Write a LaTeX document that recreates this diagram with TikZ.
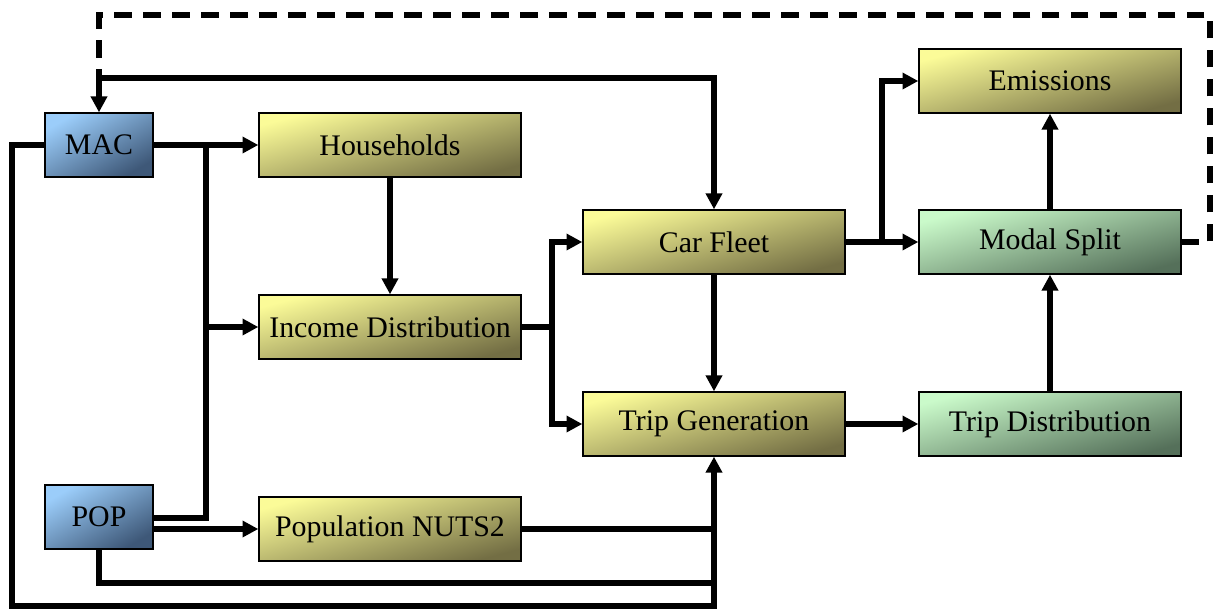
\documentclass[tikz,border=0pt]{standalone}
\usepackage{fontspec}
\setmainfont{Liberation Serif}
\usetikzlibrary{arrows.meta,calc,positioning}

\begin{document}
\begin{tikzpicture}[x=0.02cm,y=-0.02cm,line width=3.3pt,
  box/.style={draw=black,line width=0.8pt,minimum width=5.24cm,minimum height=1.28cm,
    inner sep=0pt,font=\fontsize{17}{20}\selectfont},
  drive/.style={box,minimum width=2.16cm,top color=drivelight,bottom color=drivedark,shading angle=30},
  model/.style={box,top color=modellight,bottom color=modeldark,shading angle=15},
  mode/.style={box,top color=modelight,bottom color=modedark,shading angle=15},
  arr/.style={-{Triangle[length=9pt,width=9pt]}},
  feedback/.style={dash pattern=on 10pt off 6.5pt}]
\definecolor{drivelight}{RGB}{155,205,250} \definecolor{drivedark}{RGB}{62,88,120}
\definecolor{modellight}{RGB}{251,251,152} \definecolor{modeldark}{RGB}{115,110,68}
\definecolor{modelight}{RGB}{202,250,202} \definecolor{modedark}{RGB}{85,112,90}
\useasboundingbox (0,0) rectangle (1214,609);
% drivers
\node [drive] (MAC) at (99,145) {MAC};
\node [drive] (POP) at (99,517) {POP};
% sub models
\node [model] (HH) at (390,145) {Households};
\node [model] (INC) at (390,327) {Income Distribution};
\node [model] (NUTS) at (390,529) {Population NUTS2};
\node [model] (CAR) at (714,242) {Car Fleet};
\node [model] (TRIP) at (714,424) {Trip Generation};
\node [model] (EMI) at (1050,81) {Emissions};
\node [mode] (MS) at (1050,242) {Modal Split};
\node [mode] (TD) at (1050,424) {Trip Distribution};
% junctions
\coordinate (b1) at (206,145); \coordinate (b2) at (206,327); \coordinate (b3) at (206,518);
\coordinate (c1) at (552,327); \coordinate (e1) at (882,242);
\coordinate (l1) at (12,145); \coordinate (l2) at (12,606);
\coordinate (p1) at (99,583); \coordinate (t1) at (99,78); \coordinate (d1) at (1210,15);
\foreach \from/\to in {MAC/HH,HH/INC,CAR/TRIP,CAR/MS,TRIP/TD,TD/MS,MS/EMI}
  \draw [arr] (\from) -- (\to);
\draw (b1) -- (b3) -- (POP.east |- b3);
\draw [arr] (b2) -- (INC);
\draw [arr] (POP.east |- NUTS) -- (NUTS);
\draw [arr] (INC) -- (c1) |- (CAR);
\draw [arr] (c1) |- (TRIP);
\draw [arr] (e1) |- (EMI);
\draw [arr] (MAC) -- (l1) -- (l2) -| (TRIP);
\draw (POP) -- (p1) -- (TRIP.south |- p1);
\draw (NUTS) -- (TRIP.south |- NUTS);
\draw [arr] (t1) -| (CAR);
\draw [arr] (t1) -- (MAC);
\draw [feedback] (MS) -| (d1) -| (t1);
\end{tikzpicture}
\end{document}
